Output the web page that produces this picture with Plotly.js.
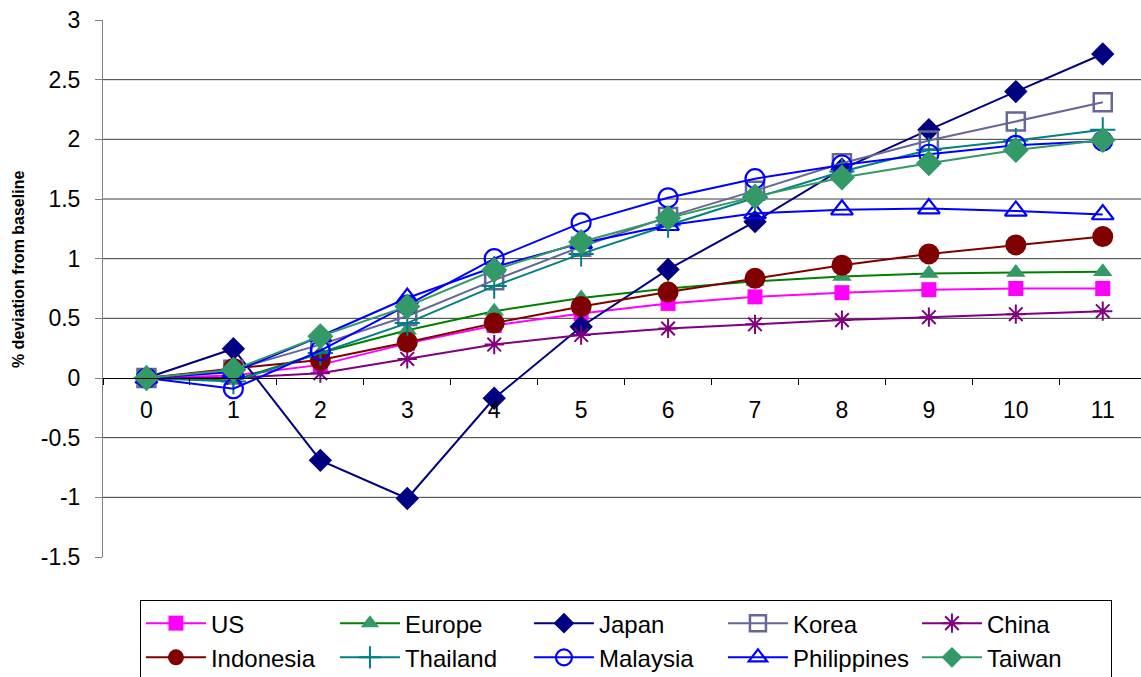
<!DOCTYPE html>
<html>
<head>
<meta charset="utf-8">
<script src="https://cdn.plot.ly/plotly-3.0.1.min.js"></script>
<style>
  html, body { margin: 0; padding: 0; background: #ffffff; }
  #chart { width: 1141px; height: 677px; }
</style>
</head>
<body>
<div id="chart"></div>
<script>
// Periods after the shock
const periods = ['0', '1', '2', '3', '4', '5', '6', '7', '8', '9', '10', '11'];

// % deviation from baseline, by economy
const us          = [0, 0.02, 0.11, 0.29, 0.44, 0.54, 0.625, 0.68, 0.715, 0.74, 0.75, 0.75];
const europe      = [0, -0.02, 0.21, 0.40, 0.56, 0.67, 0.75, 0.81, 0.85, 0.875, 0.885, 0.89];
const japan       = [0, 0.245, -0.69, -1.01, -0.17, 0.43, 0.91, 1.31, 1.75, 2.08, 2.40, 2.715];
const korea       = [0, 0.07, 0.28, 0.52, 0.82, 1.10, 1.35, 1.57, 1.80, 1.99, 2.15, 2.31];
const china       = [0, 0.0, 0.04, 0.16, 0.28, 0.36, 0.415, 0.45, 0.485, 0.51, 0.535, 0.56];
const indonesia   = [0, 0.08, 0.15, 0.30, 0.46, 0.60, 0.72, 0.835, 0.945, 1.04, 1.115, 1.185];
const thailand    = [0, -0.03, 0.21, 0.46, 0.77, 1.04, 1.28, 1.51, 1.73, 1.91, 1.99, 2.08];
const malaysia    = [0, -0.09, 0.23, 0.61, 1.00, 1.30, 1.51, 1.67, 1.785, 1.875, 1.95, 1.985];
const philippines = [0, 0.05, 0.35, 0.67, 0.93, 1.13, 1.28, 1.38, 1.41, 1.42, 1.40, 1.37];
const taiwan      = [0, 0.07, 0.35, 0.60, 0.905, 1.14, 1.34, 1.52, 1.68, 1.80, 1.91, 1.995];

// Axis settings
const yTicks = [-1.5, -1, -0.5, 0, 0.5, 1, 1.5, 2, 2.5, 3];
const yTickText = ['-1.5', '-1', '-0.5', '0', '0.5', '1', '1.5', '2', '2.5', '3'];
const gridValues = [-1, -0.5, 0.5, 1, 1.5, 2, 2.5];

const FONT = 'Liberation Sans, Arial, Helvetica, sans-serif';

function series(name, values, lineColor, symbol, size, markerColor, opts) {
  opts = opts || {};
  const open = symbol.indexOf('open') !== -1;
  return {
    type: 'scatter',
    mode: 'lines+markers',
    name: name,
    x: periods,
    y: values,
    cliponaxis: false,
    line: { color: lineColor, width: 2 },
    marker: {
      symbol: symbol,
      size: size,
      color: markerColor,
      line: { color: markerColor, width: open ? (opts.mlw || 2.2) : 0 }
    }
  };
}

const traces = [
  series('US', us, '#FF00FF', 'square', 15, '#FF00FF'),
  series('Europe', europe, '#008000', 'triangle-up', 17, '#339966'),
  series('Japan', japan, '#000080', 'diamond', 18, '#000080'),
  series('Korea', korea, '#666699', 'square-open', 18, '#666699', { mlw: 2.5 }),
  series('China', china, '#800080', 'asterisk-open', 16, '#800080', { mlw: 2 }),
  series('Indonesia', indonesia, '#800000', 'circle', 21, '#800000'),
  series('Thailand', thailand, '#008080', 'cross-thin-open', 18, '#008080', { mlw: 2 }),
  series('Malaysia', malaysia, '#0000FF', 'circle-open', 19, '#0000FF', { mlw: 2.2 }),
  series('Philippines', philippines, '#0000FF', 'triangle-up-open', 19, '#0000FF', { mlw: 2.2 }),
  series('Taiwan', taiwan, '#339966', 'diamond', 20, '#339966')
];

// Horizontal gridlines (the zero line is the category axis itself)
const gridShapes = gridValues.map(v => ({
  type: 'line', xref: 'paper', yref: 'y',
  x0: 0, x1: 1, y0: v, y1: v,
  line: { color: '#3a3a3a', width: 1 },
  layer: 'below'
}));

const layout = {
  width: 1141,
  height: 677,
  margin: { l: 103, r: 0, t: 20, b: 120 },
  paper_bgcolor: '#ffffff',
  plot_bgcolor: '#ffffff',
  font: { family: FONT, color: '#000000', size: 23 },
  showlegend: true,
  xaxis: {
    type: 'category',
    range: [-0.5, 11.44],
    anchor: 'free',
    position: 1 / 3,
    showline: true,
    linecolor: '#000000',
    linewidth: 1,
    ticks: 'outside',
    tickson: 'boundaries',
    ticklen: 6,
    tickcolor: '#000000',
    ticklabelstandoff: 11,
    showgrid: false,
    zeroline: false,
    tickfont: { family: FONT, size: 23, color: '#000000' }
  },
  yaxis: {
    range: [-1.5, 3],
    tickvals: yTicks,
    ticktext: yTickText,
    showline: true,
    linecolor: '#808080',
    linewidth: 1,
    ticks: 'outside',
    ticklen: 7,
    tickcolor: '#808080',
    ticklabelstandoff: 10,
    showgrid: false,
    zeroline: false,
    tickfont: { family: FONT, size: 23, color: '#000000' }
  },
  shapes: gridShapes,
  annotations: [{
    text: '% deviation from baseline',
    xref: 'paper', yref: 'paper',
    x: -0.082, y: 0.536,
    xanchor: 'center', yanchor: 'middle',
    textangle: -90,
    showarrow: false,
    font: { family: FONT, size: 16, color: '#000000', weight: 'bold' }
  }],
  legend: {
    orientation: 'h',
    x: 0.0356,
    xref: 'paper',
    y: 0.1137,
    yref: 'container',
    xanchor: 'left',
    yanchor: 'top',
    entrywidth: 119,
    entrywidthmode: 'pixels',
    itemwidth: 60,
    bgcolor: '#ffffff',
    bordercolor: '#000000',
    borderwidth: 1,
    font: { family: FONT, size: 24, color: '#000000' },
    traceorder: 'normal'
  }
};

Plotly.newPlot('chart', traces, layout, { displayModeBar: false, staticPlot: true });
</script>
</body>
</html>
